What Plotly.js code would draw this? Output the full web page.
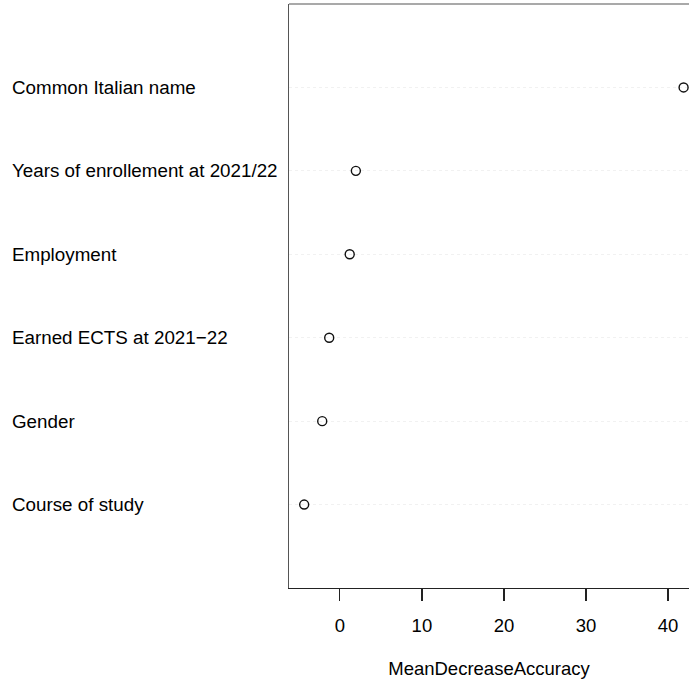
<!DOCTYPE html>
<html>
<head>
<meta charset="utf-8">
<script src="https://cdn.plot.ly/plotly-3.0.1.min.js"></script>
<style>
html,body{margin:0;padding:0;background:#fff;}
#chart{width:689px;height:684px;}
</style>
</head>
<body>
<div id="chart"></div>
<script>
// Variables listed top-to-bottom as in the chart
const features = [
  "Common Italian name",
  "Years of enrollement at 2021/22",
  "Employment",
  "Earned ECTS at 2021\u221222",
  "Gender",
  "Course of study"
];
const meanDecreaseAccuracy = [41.9, 1.95, 1.2, -1.3, -2.15, -4.35];
const xTickValues = [0, 10, 20, 30, 40];
const xTickLabels = ["0", "10", "20", "30", "40"];
const xAxisTitle = "MeanDecreaseAccuracy";

const font = "Liberation Sans, Arial, Helvetica, sans-serif";
const fsize = 18.5;
const labelSize = 18.8;

// bottom-to-top order for the category axis
const catOrder = features.slice().reverse();

const trace = {
  type: "scatter",
  mode: "markers",
  x: meanDecreaseAccuracy,
  y: features,
  marker: {symbol: "circle-open", size: 9, color: "#111", line: {width: 1.4, color: "#111"}},
  hoverinfo: "x+y",
  showlegend: false
};

const annotations = features.map(f => ({
  xref: "paper", yref: "y",
  x: -0.6965, y: f,
  text: f, showarrow: false,
  xanchor: "left", yanchor: "middle",
  font: {family: font, size: labelSize, color: "#000"}
}));

const layout = {
  width: 689, height: 684,
  margin: {l: 289, r: 0, t: 4, b: 96, pad: 0},
  paper_bgcolor: "#fff", plot_bgcolor: "#fff",
  font: {family: font, size: fsize, color: "#000"},
  xaxis: {
    range: [-6.2, 42.56],
    tickvals: xTickValues, ticktext: xTickLabels,
    ticks: "outside", ticklen: 12, tickwidth: 1.2, tickcolor: "#222",
    ticklabelstandoff: 9,
    showline: true, linecolor: "#222", linewidth: 1.2,
    showgrid: false, zeroline: false,
    tickfont: {family: font, size: fsize, color: "#000"},
    title: {text: xAxisTitle, font: {family: font, size: fsize, color: "#000"}, standoff: 26},
    automargin: false, fixedrange: true
  },
  yaxis: {
    type: "category",
    categoryorder: "array", categoryarray: catOrder,
    range: [-1, 6],
    showticklabels: false, ticks: "",
    showline: true, linecolor: "#555", linewidth: 1.2,
    showgrid: true, gridcolor: "#f1f1f1", griddash: "dot", gridwidth: 1,
    zeroline: false, automargin: false, fixedrange: true
  },
  shapes: [{
    type: "line", xref: "paper", yref: "paper",
    x0: 0, x1: 1, y0: 1, y1: 1,
    line: {color: "#555", width: 1.2}
  }],
  annotations: annotations
};

Plotly.newPlot("chart", [trace], layout, {displayModeBar: false, staticPlot: true});
</script>
</body>
</html>
